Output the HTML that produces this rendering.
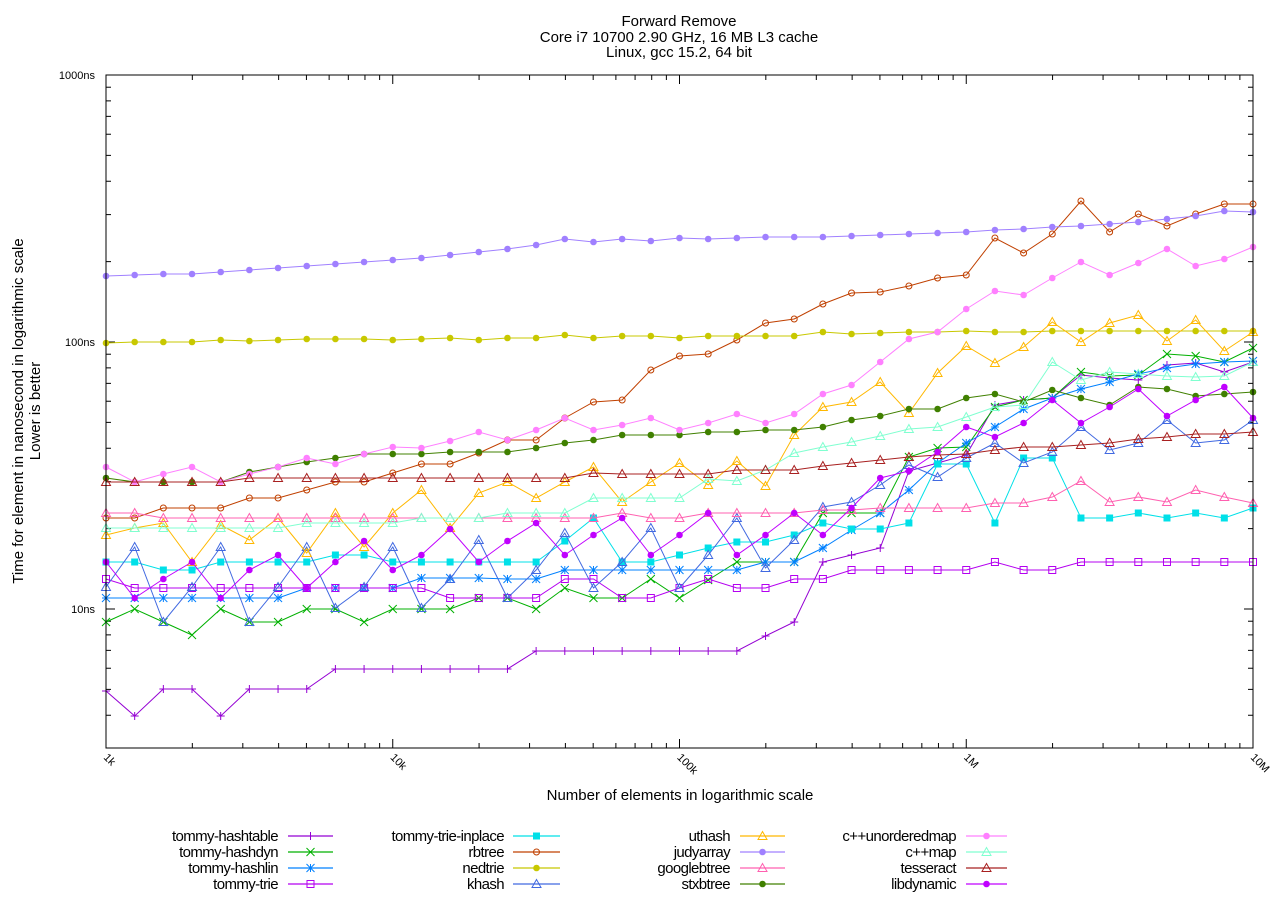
<!DOCTYPE html>
<html><head><meta charset="utf-8"><style>
html,body{margin:0;padding:0;background:#fff;}
svg text{font-family:"Liberation Sans",Arial,sans-serif;fill:#000;}
</style></head><body>
<svg id="s" width="1280" height="900" xmlns="http://www.w3.org/2000/svg">
<rect width="1280" height="900" fill="#fff"/>
<text x="679" y="26" font-size="15" text-anchor="middle">Forward Remove</text>
<text x="679" y="42" font-size="15" text-anchor="middle">Core i7 10700 2.90 GHz, 16 MB L3 cache</text>
<text x="679" y="57" font-size="15" text-anchor="middle">Linux, gcc 15.2, 64 bit</text>
<text x="95" y="79" font-size="11" text-anchor="end">1000ns</text>
<text x="95" y="346" font-size="11" text-anchor="end">100ns</text>
<text x="95" y="613" font-size="11" text-anchor="end">10ns</text>
<text x="680" y="800" font-size="15" text-anchor="middle">Number of elements in logarithmic scale</text>
<text transform="translate(23,411) rotate(-90)" font-size="15" text-anchor="middle">Time for element in nanosecond in logarithmic scale</text>
<text transform="translate(40,411) rotate(-90)" font-size="15" text-anchor="middle">Lower is better</text>
<g id="ax"></g>
<g id="plot"></g>
<rect x="106" y="75" width="1147" height="673" fill="none" stroke="#000" stroke-width="1"/>
<g id="leg"></g>
</svg>
<script>
var NS="http://www.w3.org/2000/svg";
function el(p,t,a){var e=document.createElementNS(NS,t);for(var k in a)e.setAttribute(k,a[k]);p.appendChild(e);return e;}
var ax=document.getElementById('ax'),plot=document.getElementById('plot'),leg=document.getElementById('leg');
var X0=106,XD=286.75,Y0=75,YD=267,YB=748;
function ylog(v){return 609-(Math.log10(v)-1)*YD;}
var ticks=[];
[1,10,100].forEach(function(b){for(var m=1;m<10;m++){var v=b*m;var y=ylog(v);if(y<=YB&&y>=Y0)ticks.push([y,m==1]);}});
ticks.push([75,true]);
ticks.forEach(function(t){var L=t[1]?9:5;el(ax,'line',{x1:106,x2:106+L,y1:t[0],y2:t[0],stroke:'#000'});el(ax,'line',{x1:1253,x2:1253-L,y1:t[0],y2:t[0],stroke:'#000'});});
var xl=['1k','10k','100k','1M','10M'];
for(var d=0;d<4;d++){for(var m=1;m<10;m++){var x=X0+d*XD+Math.log10(m)*XD;var L=m==1?9:5;el(ax,'line',{x1:x,x2:x,y1:748,y2:748-L,stroke:'#000'});el(ax,'line',{x1:x,x2:x,y1:75,y2:75+L,stroke:'#000'});}}
for(var d=0;d<5;d++){var x=X0+d*XD;var t=el(ax,'text',{transform:'translate('+(x-3)+',758) rotate(45)','font-size':'11'});t.textContent=xl[d];}
var S=[
['tommy-hashtable','#9400d3','plus',[691,716,689,689,716,689,689,689,669,669,669,669,669,669,669,651,651,651,651,651,651,651,651,636,622,562,555,548,471,463,455,405,400,398,375,378,380,365,363,372,362]],
['tommy-hashdyn','#00b000','x',[622,609,622,635,609,622,622,609,609,622,609,609,609,598,598,609,588,598,598,579,598,580,562,562,562,513,513,513,457,448,447,407,400,398,372,376,375,354,356,362,348]],
['tommy-hashlin','#0080ff','star',[598,598,598,598,598,598,598,588,588,588,588,578,578,578,579,579,570,570,570,570,570,570,570,562,562,548,530,513,490,463,443,427,409,398,389,382,374,368,364,362,361]],
['tommy-trie','#b400f0','osq',[579,588,588,588,588,588,588,588,588,588,588,588,598,598,598,598,579,579,598,598,588,579,588,588,579,579,570,570,570,570,570,562,570,570,562,562,562,562,562,562,562]],
['tommy-trie-inplace','#00e0e8','fsq',[562,562,570,570,562,562,562,562,555,555,562,562,562,562,562,562,541,518,562,562,555,548,542,542,535,523,529,529,523,464,464,523,458,458,518,518,513,518,513,518,508]],
['rbtree','#c04000','oc',[518,518,508,508,508,498,498,490,482,482,473,464,464,453,440,440,418,402,400,370,356,354,340,323,319,304,293,292,286,278,275,238,253,234,201,232,214,226,214,204,204]],
['nedtrie','#c8c800','fc',[343,342,342,342,340,341,340,339,339,339,340,339,338,340,338,338,335,338,336,336,338,336,336,336,336,332,334,333,332,332,331,332,332,331,331,331,331,331,331,331,331]],
['khash','#4169e1','ot',[587,547,622,587,547,622,587,547,608,587,547,608,579,540,598,570,533,588,562,528,588,555,518,568,540,507,502,485,465,477,458,443,463,452,427,450,443,420,443,440,420]],
['uthash','#ffb800','ot',[535,528,523,562,525,540,518,553,513,547,513,490,528,493,482,498,482,467,502,482,463,485,461,486,435,407,402,382,413,373,346,363,347,322,342,323,315,341,320,351,332]],
['judyarray','#a080ff','fc',[276,275,274,274,272,270,268,266,264,262,260,258,255,252,249,245,239,242,239,241,238,239,238,237,237,237,236,235,234,233,232,230,229,227,226,224,222,219,216,211,212]],
['googlebtree','#ff60b0','ot',[513,513,518,518,518,518,518,518,518,518,518,518,518,518,518,518,518,518,513,518,518,513,513,513,513,510,510,508,508,508,508,503,503,497,481,502,497,502,490,497,503]],
['stxbtree','#408000','fc',[478,482,482,482,482,472,467,462,458,454,454,454,452,452,452,448,443,440,435,435,435,432,432,430,430,427,420,416,409,409,398,394,402,390,398,405,387,389,396,394,392]],
['c++unorderedmap','#ff80ff','fc',[467,482,474,467,482,474,467,458,464,454,447,448,441,432,440,430,418,430,425,418,430,423,414,423,414,394,385,362,339,332,309,291,295,278,262,275,263,249,266,259,247]],
['c++map','#80ffd0','ot',[528,528,528,528,528,528,528,523,523,523,523,518,518,518,513,513,513,498,498,498,498,479,481,470,453,447,442,436,429,427,417,407,405,362,380,372,374,376,377,376,362]],
['tesseract','#a82020','ot',[482,482,482,482,482,478,478,478,478,478,478,478,478,478,478,478,478,473,474,474,474,474,470,470,470,466,463,460,457,455,454,450,447,447,445,443,439,437,434,434,432]],
['libdynamic','#c000ff','fc',[562,598,579,562,598,570,555,588,562,541,570,555,529,562,541,523,555,535,518,555,535,513,555,535,513,535,508,478,471,452,427,437,423,400,423,407,389,416,400,387,418]]
];
function mark(g,t,x,y,c){
 var r=4;
 if(t=='plus'){el(g,'path',{d:'M'+(x-r)+' '+y+'h'+2*r+'M'+x+' '+(y-r)+'v'+2*r,stroke:c,fill:'none'});}
 else if(t=='x'){el(g,'path',{d:'M'+(x-r)+' '+(y-r)+'l'+2*r+' '+2*r+'M'+(x-r)+' '+(y+r)+'l'+2*r+' '+(-2*r),stroke:c,fill:'none'});}
 else if(t=='star'){el(g,'path',{d:'M'+(x-r)+' '+y+'h'+2*r+'M'+x+' '+(y-r)+'v'+2*r+'M'+(x-r)+' '+(y-r)+'l'+2*r+' '+2*r+'M'+(x-r)+' '+(y+r)+'l'+2*r+' '+(-2*r),stroke:c,fill:'none'});}
 else if(t=='osq'){el(g,'rect',{x:x-3.5,y:y-3.5,width:7,height:7,stroke:c,fill:'none'});}
 else if(t=='fsq'){el(g,'rect',{x:x-3.5,y:y-3.5,width:7,height:7,fill:c});}
 else if(t=='oc'){el(g,'circle',{cx:x,cy:y,r:3,stroke:c,fill:'none'});}
 else if(t=='fc'){el(g,'circle',{cx:x,cy:y,r:3.3,fill:c});}
 else if(t=='ot'){el(g,'path',{d:'M'+x+' '+(y-4.5)+'L'+(x+4.5)+' '+(y+3.5)+'L'+(x-4.5)+' '+(y+3.5)+'Z',stroke:c,fill:'none'});}
}
S.forEach(function(s){
 var g=el(plot,'g',{});var d='';
 s[3].forEach(function(y,i){var x=X0+i*XD/10;d+=(i?'L':'M')+x.toFixed(1)+' '+y;});
 el(g,'path',{d:d,stroke:s[1],fill:'none','stroke-width':1});
 s[3].forEach(function(y,i){mark(g,s[2],X0+i*XD/10,y,s[1]);});
});
var cols=[[278,288,333],[504,513,560],[730,740,785],[956,966,1007]];
S.forEach(function(s,k){
 var c=cols[Math.floor(k/4)],y=836+(k%4)*16;
 var t=el(leg,'text',{x:c[0],y:y+5,'font-size':'15','text-anchor':'end','letter-spacing':'-0.6'});t.textContent=s[0];
 el(leg,'line',{x1:c[1],x2:c[2],y1:y,y2:y,stroke:s[1],'stroke-width':1.2});
 mark(leg,s[2],(c[1]+c[2])/2,y,s[1]);
});
</script>
</body></html>
